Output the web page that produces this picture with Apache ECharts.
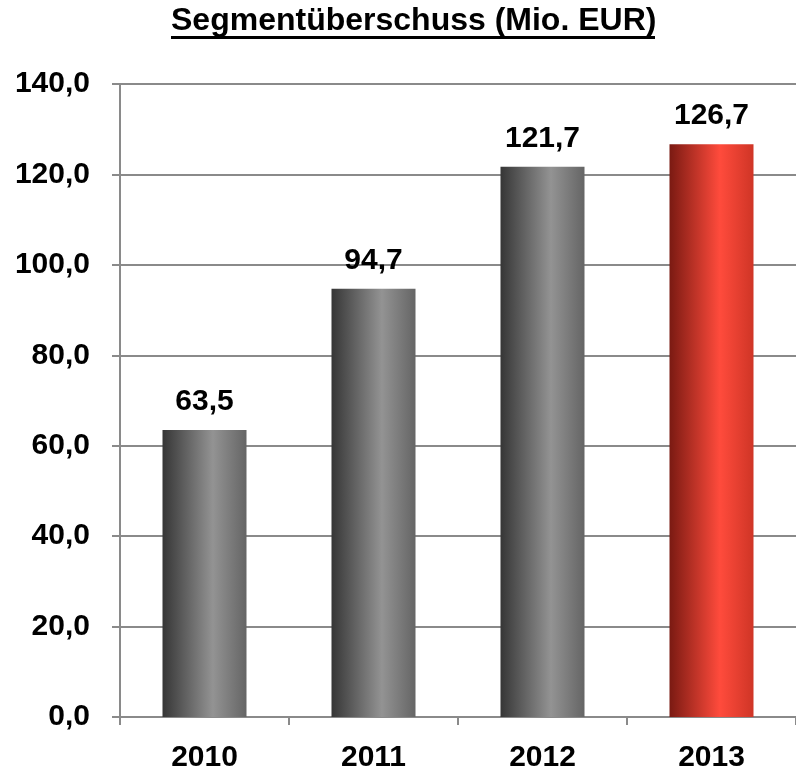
<!DOCTYPE html>
<html>
<head>
<meta charset="utf-8">
<script src="https://cdn.jsdelivr.net/npm/echarts@6/dist/echarts.min.js"></script>
<style>
  html, body { margin: 0; padding: 0; background: #fff; }
  #chart { width: 796px; height: 773px; }
</style>
</head>
<body>
<div id="chart"></div>
<script>
const years = ['2010', '2011', '2012', '2013'];
const values = [63.5, 94.7, 121.7, 126.7];
const highlightIndex = 3;

const fmt = (v) => v.toFixed(1).replace('.', ',');

const greyFill = new echarts.graphic.LinearGradient(0, 0, 1, 0, [
  { offset: 0, color: '#363636' },
  { offset: 0.6, color: '#939393' },
  { offset: 1, color: '#656565' }
]);
const redFill = new echarts.graphic.LinearGradient(0, 0, 1, 0, [
  { offset: 0, color: '#7a1a12' },
  { offset: 0.6, color: '#ff4b3c' },
  { offset: 1, color: '#cf3526' }
]);

const chart = echarts.init(document.getElementById('chart'));
const font = '"Liberation Sans", Arial, sans-serif';

chart.setOption({
  animation: false,
  textStyle: { fontFamily: font },
  title: {
    text: 'Segmentüberschuss (Mio. EUR)',
    left: 171,
    top: 0,
    padding: [5, 0, 0, 0],
    textStyle: { fontSize: 32, fontWeight: 'bold', color: '#000', fontFamily: font }
  },
  // underline under the title
  graphic: [{
    type: 'line',
    shape: { x1: 171, y1: 37.5, x2: 655, y2: 37.5 },
    style: { stroke: '#000', lineWidth: 3 }
  }],
  grid: { left: 120, top: 84, width: 680, height: 637 },
  xAxis: {
    type: 'category',
    data: years,
    axisLine: { lineStyle: { color: '#8a8a8a', width: 2 } },
    axisTick: { show: true, length: 8, lineStyle: { color: '#8a8a8a', width: 2 } },
    axisLabel: { fontSize: 30, fontWeight: 'bold', color: '#000', margin: 26, fontFamily: font }
  },
  yAxis: {
    type: 'value',
    min: 0,
    max: 140,
    interval: 20,
    axisLine: { show: true, lineStyle: { color: '#8a8a8a', width: 2 } },
    axisTick: { show: true, length: 8, lineStyle: { color: '#8a8a8a', width: 2 } },
    splitLine: { lineStyle: { color: '#8a8a8a', width: 2 } },
    axisLabel: {
      fontSize: 30, fontWeight: 'bold', color: '#000', margin: 30, fontFamily: font,
      formatter: (v) => fmt(v)
    }
  },
  series: [{
    type: 'bar',
    barWidth: 84,
    data: values.map((v, i) => ({
      value: v,
      itemStyle: { color: i === highlightIndex ? redFill : greyFill }
    })),
    label: {
      show: true,
      position: 'top',
      distance: 13,
      fontSize: 30,
      fontWeight: 'bold',
      color: '#000',
      fontFamily: font,
      formatter: (p) => fmt(p.value)
    }
  }]
});
</script>
</body>
</html>
